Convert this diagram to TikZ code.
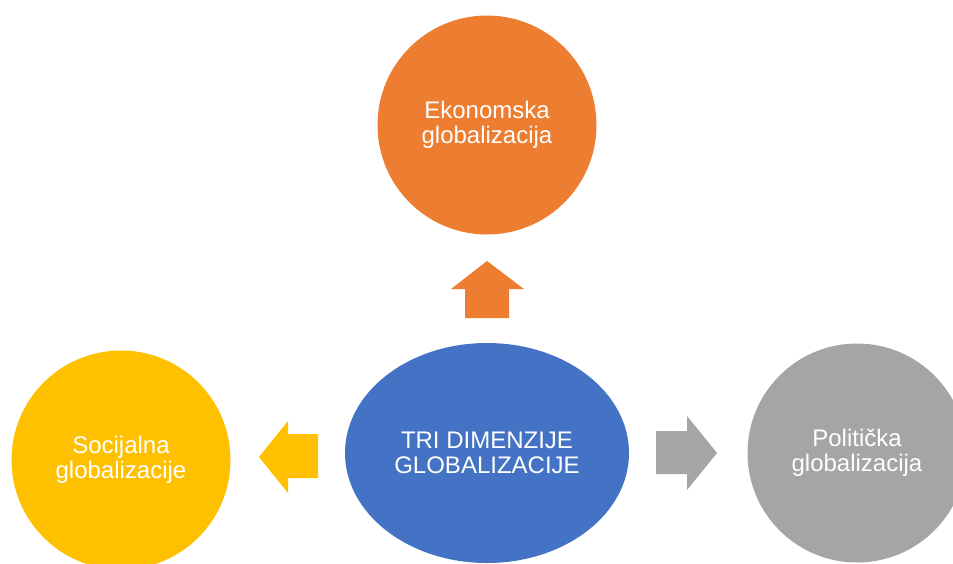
\documentclass[tikz,border=0pt]{standalone}
\usepackage{fontspec}
\setmainfont{Liberation Sans}
\usetikzlibrary{shapes.geometric}
\definecolor{cOrange}{HTML}{ED7D31}
\definecolor{cYellow}{HTML}{FFC000}
\definecolor{cGray}{HTML}{A5A5A5}
\definecolor{cBlue}{HTML}{4472C4}
\tikzset{
  dimcircle/.style={circle, inner sep=0pt, minimum size=219pt, text=white, align=center,
    font=\fontsize{24}{25}\selectfont},
  blockarrow/.style={draw=none}
}
\begin{document}
\begin{tikzpicture}[x=1pt,y=-1pt]
\useasboundingbox (0,0) rectangle (953,563);
\clip (0,0) rectangle (953,563);
\node[dimcircle, fill=cOrange] (eko) at (487,125) {Ekonomska\\globalizacija};
\node[dimcircle, fill=cYellow] (soc) at (121,460) {Socijalna\\globalizacije};
\node[dimcircle, fill=cGray] (pol) at (857,453) {Politička\\globalizacija};
\node[ellipse, inner sep=0pt, minimum width=284pt, minimum height=220pt, fill=cBlue,
  text=white, align=center, font=\fontsize{24}{25}\selectfont] (tri) at (487,453)
  {TRI DIMENZIJE\\GLOBALIZACIJE};
\fill[blockarrow, cOrange] (465,318) -- (465,289) -- (451,289) -- (487,261) -- (524,289) -- (509,289) -- (509,318) -- cycle;
\fill[blockarrow, cYellow] (318,434) -- (288,434) -- (288,421) -- (259,457) -- (288,493) -- (288,478) -- (318,478) -- cycle;
\fill[blockarrow, cGray] (656,431) -- (687,431) -- (687,416) -- (717,453) -- (687,490) -- (687,474) -- (656,474) -- cycle;
\end{tikzpicture}
\end{document}
